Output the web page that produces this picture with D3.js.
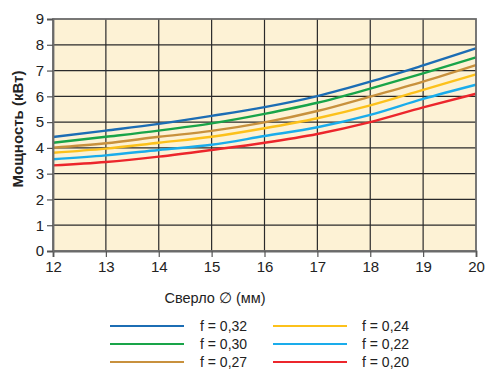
<!DOCTYPE html>
<html><head><meta charset="utf-8">
<script src="https://cdn.jsdelivr.net/npm/d3@7"></script>
<style>body{margin:0;background:#fff}svg{display:block}text{font-family:"Liberation Sans",Arial,sans-serif}</style>
</head><body>
<script>
const diameters = [12, 13, 14, 15, 16, 17, 18, 19, 20];
const seriesNames = ["f = 0,32", "f = 0,30", "f = 0,27", "f = 0,24", "f = 0,22", "f = 0,20"];
const f032 = [4.42, 4.67, 4.93, 5.24, 5.58, 6.01, 6.57, 7.20, 7.86];
const f030 = [4.20, 4.43, 4.67, 4.95, 5.32, 5.75, 6.30, 6.89, 7.51];
const f027 = [4.01, 4.18, 4.43, 4.66, 4.99, 5.43, 5.99, 6.57, 7.21];
const f024 = [3.81, 3.97, 4.20, 4.43, 4.76, 5.15, 5.65, 6.25, 6.85];
const f022 = [3.56, 3.71, 3.92, 4.12, 4.46, 4.80, 5.28, 5.90, 6.45];
const f020 = [3.32, 3.45, 3.66, 3.92, 4.20, 4.54, 5.00, 5.57, 6.10];
const xTicks = [12, 13, 14, 15, 16, 17, 18, 19, 20];
const yTicks = [0, 1, 2, 3, 4, 5, 6, 7, 8, 9];
const colors = ["#1c6db4", "#19a449", "#c8913d", "#fcc11b", "#1aaceb", "#ec262c"];
const allSeries = [f032, f030, f027, f024, f022, f020];

const W = 487, H = 371;
const L = 53, R = 476, T = 19, B = 251;
const svg = d3.select("body").append("svg").attr("width", W).attr("height", H);
const x = d3.scaleLinear().domain([12, 20]).range([L, R]);
const y = d3.scaleLinear().domain([0, 9]).range([B, T]);

svg.append("rect").attr("x", L).attr("y", T).attr("width", R - L).attr("height", B - T).attr("fill", "#fdf2d5");

// grid
const g = svg.append("g");
g.selectAll(".vx").data(xTicks.slice(1, -1)).enter().append("line")
  .attr("x1", d => x(d)).attr("x2", d => x(d)).attr("y1", T).attr("y2", B)
  .attr("stroke", "#2a2a2a").attr("stroke-width", 1.2);
g.selectAll(".hy").data(yTicks.slice(1, -1)).enter().append("line")
  .attr("y1", d => y(d)).attr("y2", d => y(d)).attr("x1", L).attr("x2", R)
  .attr("stroke", "#2a2a2a").attr("stroke-width", 1.2);

// series
const line = d3.line().x((d, i) => x(diameters[i])).y(d => y(d)).curve(d3.curveMonotoneX);
allSeries.forEach((s, i) => {
  svg.append("path").attr("d", line(s)).attr("fill", "none")
    .attr("stroke", colors[i]).attr("stroke-width", 2.4);
});

// frame
svg.append("rect").attr("x", L).attr("y", T).attr("width", R - L).attr("height", B - T)
  .attr("fill", "none").attr("stroke", "#6a6a6a").attr("stroke-width", 1.8);

// axes
const xAxis = svg.append("g").attr("transform", `translate(0,${B})`)
  .call(d3.axisBottom(x).tickValues(xTicks).tickSize(6).tickPadding(4).tickFormat(d3.format("d")));
const yAxis = svg.append("g").attr("transform", `translate(${L},0)`)
  .call(d3.axisLeft(y).tickValues(yTicks).tickSize(6).tickPadding(3).tickFormat(d3.format("d")));
[xAxis, yAxis].forEach(a => {
  a.select(".domain").attr("stroke", "#6a6a6a").attr("stroke-width", 1.8);
  a.selectAll(".tick line").attr("stroke", "#555").attr("stroke-width", 1.2);
  a.selectAll(".tick text").attr("fill", "#222").style("font-size", "15px");
});

// titles
svg.append("text").attr("x", 215).attr("y", 303).attr("text-anchor", "middle")
  .attr("fill", "#222").style("font-size", "14.5px").text("Сверло ∅ (мм)");
svg.append("text").attr("transform", "translate(23,129) rotate(-90)").attr("text-anchor", "middle")
  .attr("fill", "#222").style("font-size", "15px").style("font-weight", "bold").text("Мощность (кВт)");

// legend
const legX = [[110, 184, 200], [273, 347, 362]];
const legY = [326, 344, 362];
seriesNames.forEach((n, i) => {
  const col = Math.floor(i / 3), row = i % 3;
  const [x1, x2, tx] = legX[col];
  svg.append("line").attr("x1", x1).attr("x2", x2).attr("y1", legY[row]).attr("y2", legY[row])
    .attr("stroke", colors[i]).attr("stroke-width", 2.2);
  svg.append("text").attr("x", tx).attr("y", legY[row] + 5).attr("fill", "#222")
    .style("font-size", "14px").text(n);
});
</script>
</body></html>
